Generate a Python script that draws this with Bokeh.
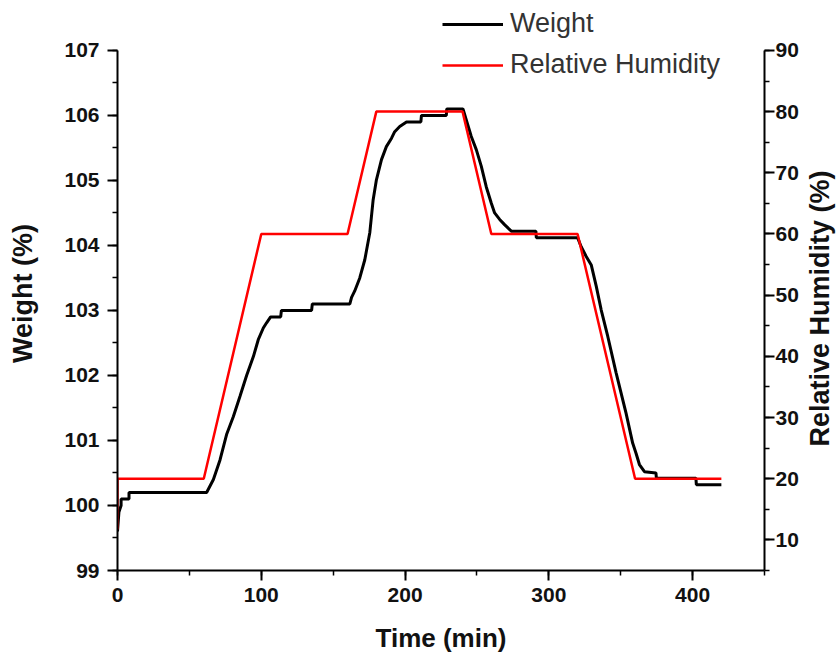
import math
from bokeh.plotting import figure
from bokeh.layouts import row
from bokeh.models import (Range1d, LinearAxis, SingleIntervalTicker, Legend,
                          LegendItem, Label)
from bokeh.embed import file_html
from bokeh.resources import INLINE

# ---- data ----
weight_time = [0, 1, 2.5, 2.5, 8, 8, 62, 66.7, 71.3, 76, 80.6, 85.2, 89.8, 94.5, 97.9,
               101.4, 103.7, 106.5, 113.5, 114, 135, 135.5, 161.6, 162.8, 165, 168.5,
               172, 175.5, 177.8, 180, 183.6, 187, 190.6, 192.8, 196.3, 201, 211, 211.4,
               228.7, 229, 240.3, 242.6, 246, 249.6, 253, 256.5, 260, 262.3, 265.8,
               269.2, 273.9, 291, 291.3, 320, 322.5, 326, 329.5, 333, 336.4, 341, 346.8,
               353.7, 358.3, 360.7, 363, 366.5, 374.5, 374.8, 402.3, 402.6, 420]
weight_pct = [99.6, 99.9, 100.0, 100.1, 100.1, 100.2, 100.2, 100.4, 100.7, 101.1, 101.37,
              101.68, 102.0, 102.29, 102.55, 102.73, 102.81, 102.9, 102.9, 103.0, 103.0,
              103.1, 103.1, 103.2, 103.3, 103.5, 103.78, 104.2, 104.7, 105.0, 105.32,
              105.52, 105.65, 105.75, 105.83, 105.9, 105.9, 106.0, 106.0, 106.1, 106.1,
              105.93, 105.68, 105.47, 105.22, 104.9, 104.65, 104.5, 104.4, 104.32, 104.22,
              104.22, 104.12, 104.12, 103.98, 103.83, 103.7, 103.37, 103.01, 102.6,
              102.04, 101.42, 100.96, 100.8, 100.63, 100.52, 100.5, 100.42, 100.42,
              100.32, 100.32]

rh_time = [0, 0, 60, 100, 160, 180, 240, 260, 320, 360, 420]
rh_pct = [11.7, 20, 20, 60, 60, 80, 80, 60, 60, 20, 20]

x_lim = (0, 450)
w_lim = (99, 107)
rh_lim = (5, 90)

x_title = "Time (min)"
left_title = "Weight (%)"
right_title = "Relative Humidity (%)"
series_names = ["Weight", "Relative Humidity"]

FONT = "Liberation Sans"
TXT = "#111111"

# ---- layout geometry ----
W, H = 836, 655
LEFT_STRIP, RIGHT_STRIP = 45, 30          # strips holding the rotated y titles
MAIN_W = W - LEFT_STRIP - RIGHT_STRIP
LEFT, RIGHT, BOTTOM = 117 - LEFT_STRIP, (W - RIGHT_STRIP) - 764, 84
AXIS_TOP = 50                              # pixel row of the 107 / 90 tick
frame_h = H - BOTTOM
axis_h = frame_h - AXIS_TOP
w_top = w_lim[0] + (w_lim[1] - w_lim[0]) * frame_h / axis_h
rh_top = rh_lim[0] + (rh_lim[1] - rh_lim[0]) * frame_h / axis_h

p = figure(width=MAIN_W, height=H, output_backend="svg", toolbar_location=None,
           x_range=Range1d(*x_lim), y_range=Range1d(w_lim[0], w_top),
           min_border_left=LEFT, min_border_right=RIGHT, min_border_top=0,
           min_border_bottom=BOTTOM)
p.extra_y_ranges = {"rh": Range1d(rh_lim[0], rh_top)}
p.xgrid.visible = False
p.ygrid.visible = False
p.outline_line_color = None
p.background_fill_color = "white"
p.border_fill_color = "white"

r1 = p.line(weight_time, weight_pct, line_color="black", line_width=3)
r2 = p.line(rh_time, rh_pct, line_color="#ff0000", line_width=2.5, y_range_name="rh")

right_axis = LinearAxis(y_range_name="rh")
p.add_layout(right_axis, "right")

p.xaxis.ticker = SingleIntervalTicker(interval=100, num_minor_ticks=2)
p.yaxis[0].ticker = SingleIntervalTicker(interval=1, num_minor_ticks=2)
right_axis.ticker = SingleIntervalTicker(interval=10, num_minor_ticks=2)
p.xaxis.axis_label = x_title
p.yaxis[0].bounds = w_lim
right_axis.bounds = rh_lim

for ax in p.xaxis + p.yaxis:
    ax.axis_line_width = 2
    ax.axis_line_color = "black"
    ax.major_tick_in = 0
    ax.major_tick_out = 10
    ax.minor_tick_in = 0
    ax.minor_tick_out = 5
    ax.major_tick_line_width = 2
    ax.minor_tick_line_width = 1.5
    ax.major_tick_line_color = "black"
    ax.minor_tick_line_color = "black"
    ax.major_label_text_font = FONT
    ax.major_label_text_font_style = "bold"
    ax.major_label_text_font_size = "21px"
    ax.major_label_text_color = TXT
    ax.axis_label_text_font = FONT
    ax.axis_label_text_font_style = "bold"
    ax.axis_label_text_font_size = "26px"
    ax.axis_label_text_color = TXT

p.yaxis[0].major_label_standoff = 8
p.xaxis.major_label_standoff = 7
p.xaxis.axis_label_standoff = 18
right_axis.major_label_standoff = 1

legend = Legend(items=[LegendItem(label=series_names[0], renderers=[r1]),
                       LegendItem(label=series_names[1], renderers=[r2])],
                location=(325, 490), orientation="vertical",
                border_line_color=None, background_fill_alpha=0,
                padding=0, margin=0, spacing=10,
                glyph_width=61, glyph_height=20, label_height=20,
                label_standoff=7, label_text_font=FONT,
                label_text_font_size="27px", label_text_color="#333333")
p.add_layout(legend)


def title_strip(width, text, cx, cy):
    # frame of the strip is aligned with the main frame (top 0, bottom frame_h)
    f = figure(width=width, height=H, output_backend="svg", toolbar_location=None,
               x_axis_location=None, y_axis_location=None,
               x_range=Range1d(0, width), y_range=Range1d(0, frame_h),
               min_border_left=0, min_border_right=0, min_border_top=0,
               min_border_bottom=BOTTOM)
    f.xgrid.visible = False
    f.ygrid.visible = False
    f.outline_line_color = None
    f.background_fill_color = "white"
    f.border_fill_color = "white"
    f.add_layout(Label(x=cx, y=frame_h - cy, x_units="screen", y_units="screen",
                       text=text, angle=math.pi / 2, text_align="center",
                       text_baseline="middle", text_font=FONT,
                       text_font_style="bold", text_font_size="27px",
                       text_color=TXT))
    return f


left_strip = title_strip(LEFT_STRIP, left_title, 22, 294)
right_strip = title_strip(RIGHT_STRIP, right_title, 13, 309)

layout = row(left_strip, p, right_strip, spacing=0)

open("out.html", "w").write(file_html(layout, INLINE))
